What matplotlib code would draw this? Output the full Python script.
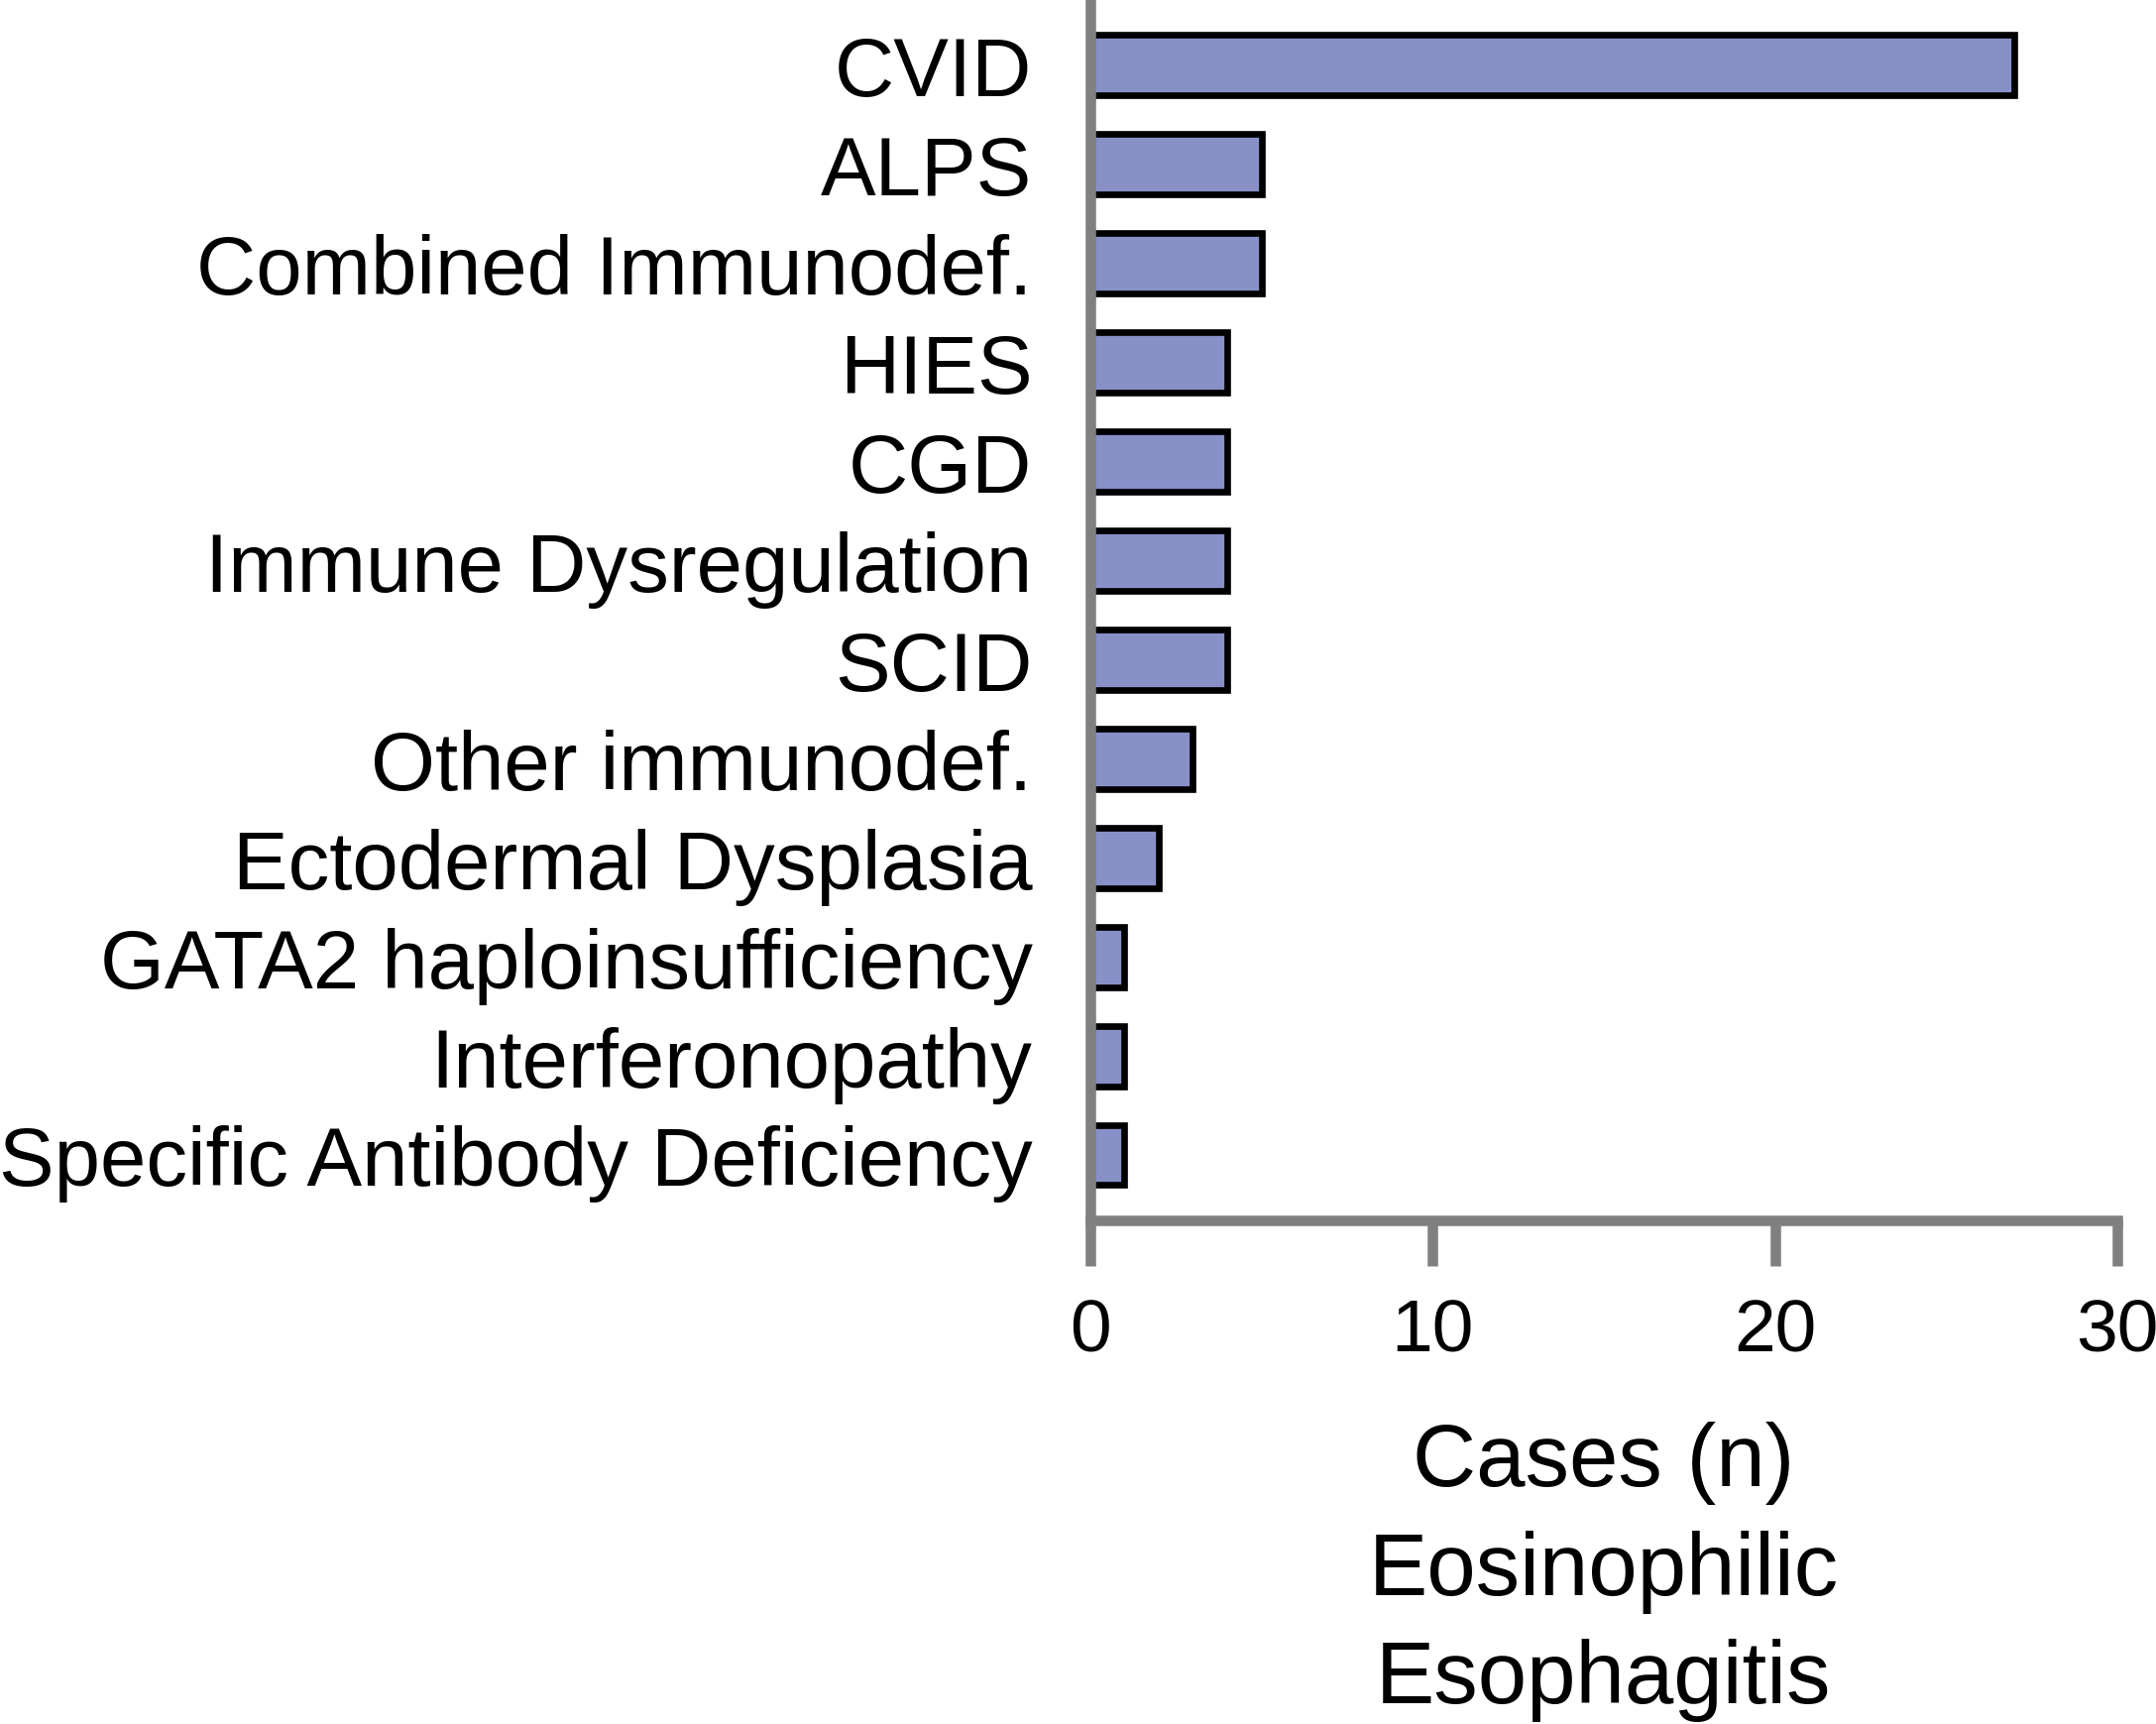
import matplotlib
matplotlib.use("Agg")
import matplotlib.pyplot as plt

categories = ["CVID", "ALPS", "Combined Immunodef.", "HIES", "CGD",
              "Immune Dysregulation", "SCID", "Other immunodef.",
              "Ectodermal Dysplasia", "GATA2 haploinsufficiency",
              "Interferonopathy", "Specific Antibody Deficiency"]
cases = [27, 5, 5, 4, 4, 4, 4, 3, 2, 1, 1, 1]
x_ticks = [0, 10, 20, 30]
x_label = "Cases (n)\nEosinophilic\nEsophagitis"

plt.rcParams['font.family'] = ['Liberation Sans', 'DejaVu Sans']

fig = plt.figure(figsize=(21.75, 17.4), dpi=100)
ax = fig.add_axes([0.5057, 0.292, 0.982 - 0.5057, 1.0 - 0.292])

pos = list(range(len(categories)))
ax.barh(pos, cases, height=0.61, color="#8890C8", edgecolor="black",
        linewidth=4.8, zorder=2)

ax.set_xlim(0, 30)
ax.set_ylim(len(categories) - 1 + 0.66, -0.67)
ax.set_xticks(x_ticks)
ax.set_xticklabels([str(t) for t in x_ticks])
ax.set_yticks(pos)
ax.set_yticklabels(categories)

for s in ["top", "right"]:
    ax.spines[s].set_visible(False)
for s in ["left", "bottom"]:
    ax.spines[s].set_color("#808080")
    ax.spines[s].set_linewidth(7.6)
    ax.spines[s].set_zorder(3)
ax.spines["left"].set_capstyle("butt")

ax.tick_params(axis="y", length=0, pad=42, labelsize=60)
ax.tick_params(axis="x", length=33, width=7.6, color="#808080",
               pad=23, labelsize=54, direction="out")
ax.set_xlabel(x_label, fontsize=64, labelpad=40, linespacing=1.39)

fig.savefig("out.png", dpi=100)
